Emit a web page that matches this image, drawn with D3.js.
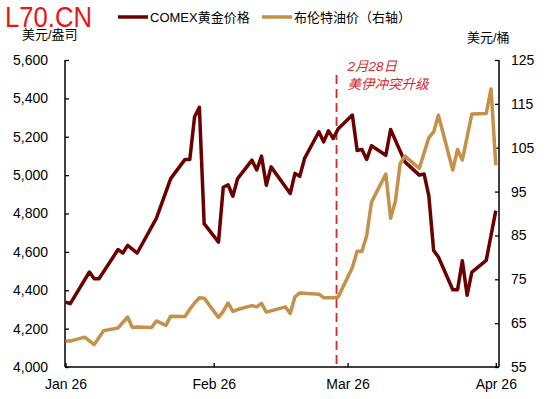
<!DOCTYPE html>
<html>
<head>
<meta charset="utf-8">
<script src="https://cdn.jsdelivr.net/npm/d3@7/dist/d3.min.js"></script>
<style>
  body { margin: 0; background: #fff; }
  svg text { font-family: "Liberation Sans", Arial, "Noto Sans CJK SC", sans-serif; fill: #000; }
</style>
</head>
<body>
<svg id="chart" width="550" height="399"></svg>
<script>
// COMEX gold (left axis, USD/oz) - turning points
const goldDates = [
  '2026-01-01', '2026-01-02', '2026-01-06', '2026-01-07', '2026-01-08', '2026-01-12',
  '2026-01-13', '2026-01-14', '2026-01-16', '2026-01-20', '2026-01-23', '2026-01-26',
  '2026-01-27', '2026-01-28', '2026-01-29', '2026-01-30', '2026-02-02', '2026-02-03',
  '2026-02-04', '2026-02-05', '2026-02-06', '2026-02-09', '2026-02-10', '2026-02-11',
  '2026-02-12', '2026-02-13', '2026-02-17', '2026-02-18', '2026-02-19', '2026-02-20',
  '2026-02-23', '2026-02-24', '2026-02-25', '2026-02-26', '2026-02-27', '2026-03-02',
  '2026-03-03', '2026-03-04', '2026-03-05', '2026-03-06', '2026-03-09', '2026-03-10',
  '2026-03-13', '2026-03-16', '2026-03-17', '2026-03-18', '2026-03-19', '2026-03-20',
  '2026-03-23', '2026-03-24', '2026-03-25', '2026-03-26', '2026-03-27', '2026-03-30',
  '2026-04-01'
];
const goldValues = [
  4338, 4330, 4495, 4460, 4460, 4612,
  4594, 4634, 4594, 4775, 4982, 5082,
  5082, 5304, 5353, 4747, 4651, 4937,
  4950, 4890, 4982, 5078, 5027, 5099,
  4947, 5043, 4904, 5009, 4994, 5087,
  5226, 5173, 5231, 5191, 5240, 5313,
  5128, 5134, 5082, 5153, 5104, 5238,
  5069, 5000, 5006, 4890, 4607, 4573,
  4403, 4403, 4554, 4374, 4495, 4556,
  4815
];

// Brent crude (right axis, USD/bbl)
const oilDates = [
  '2026-01-01', '2026-01-02', '2026-01-05', '2026-01-07', '2026-01-09', '2026-01-12',
  '2026-01-14', '2026-01-15', '2026-01-16', '2026-01-19', '2026-01-20', '2026-01-22',
  '2026-01-23', '2026-01-26', '2026-01-27', '2026-01-28', '2026-01-29', '2026-01-30',
  '2026-02-02', '2026-02-03', '2026-02-04', '2026-02-05', '2026-02-06', '2026-02-09',
  '2026-02-10', '2026-02-11', '2026-02-12', '2026-02-16', '2026-02-17', '2026-02-18',
  '2026-02-19', '2026-02-23', '2026-02-24', '2026-02-26', '2026-02-27', '2026-03-02',
  '2026-03-03', '2026-03-04', '2026-03-05', '2026-03-06', '2026-03-09', '2026-03-10',
  '2026-03-11', '2026-03-12', '2026-03-13', '2026-03-16', '2026-03-18', '2026-03-19',
  '2026-03-20', '2026-03-23', '2026-03-24', '2026-03-25', '2026-03-27', '2026-03-30',
  '2026-03-31', '2026-04-01'
];
const oilValues = [
  60.9, 60.9, 61.8, 60.1, 63.3, 63.9,
  66.4, 64.0, 64.1, 64.0, 65.5, 64.5,
  66.6, 66.5, 68.2, 69.6, 70.8, 70.7,
  66.3, 67.7, 69.6, 67.7, 68.1, 69.0,
  68.7, 69.5, 67.5, 68.7, 67.2, 71.0,
  71.9, 71.6, 70.8, 70.8, 70.9, 77.7,
  81.4, 81.4, 85.0, 92.6, 99.0, 88.9,
  92.8, 101.4, 103.1, 100.3, 107.3, 108.6,
  112.4, 99.9, 104.6, 102.2, 112.7, 112.8,
  118.4, 101.0
];

const leftTicks = [4000, 4200, 4400, 4600, 4800, 5000, 5200, 5400, 5600];
const rightTicks = [55, 65, 75, 85, 95, 105, 115, 125];
const monthTicks = ['2026-01-01', '2026-02-01', '2026-03-01', '2026-04-01'];
const monthLabels = ['Jan 26', 'Feb 26', 'Mar 26', 'Apr 26'];
const seriesNames = ['COMEX黄金价格', '布伦特油价（右轴）'];
const seriesColors = ['#6b0000', '#c4904a'];
const eventDate = '2026-02-27';
const eventText = ['2月28日', '美伊冲突升级'];

const parse = d3.timeParse('%Y-%m-%d');
const svg = d3.select('#chart');

const plotLeft = 65, plotRight = 499, plotTop = 60, plotBottom = 367;

const x = d3.scaleTime()
  .domain([parse('2026-01-01'), parse('2026-04-01')])
  .range([65.5, 495.8]);
const yL = d3.scaleLinear().domain([4000, 5600]).range([plotBottom, plotTop]);
const yR = d3.scaleLinear().domain([55, 125]).range([plotBottom, plotTop]);

const gold = d3.zip(goldDates, goldValues).map(([d, v]) => ({ date: parse(d), value: v }));
const oil = d3.zip(oilDates, oilValues).map(([d, v]) => ({ date: parse(d), value: v }));

// axes
const axisL = svg.append('g')
  .attr('transform', `translate(${plotLeft},0)`)
  .call(d3.axisLeft(yL).tickValues(leftTicks).tickSize(-4).tickPadding(17).tickFormat(d3.format(',')));
const axisR = svg.append('g')
  .attr('transform', `translate(${plotRight},0)`)
  .call(d3.axisRight(yR).tickValues(rightTicks).tickSize(-4).tickPadding(12));
const axisB = svg.append('g')
  .attr('transform', `translate(0,${plotBottom})`)
  .call(d3.axisBottom(x).tickValues(monthTicks.map(parse)).tickSize(-4).tickPadding(12)
    .tickFormat((d, i) => monthLabels[i]));

[axisL, axisR, axisB].forEach((g) => {
  g.select('.domain').remove();
  g.selectAll('.tick line').attr('stroke', '#000').attr('stroke-width', 1.3);
  g.selectAll('.tick text').attr('font-size', 14).attr('fill', '#000');
});

svg.append('line').attr('x1', plotLeft).attr('x2', plotLeft).attr('y1', plotTop).attr('y2', plotBottom)
  .attr('stroke', '#000').attr('stroke-width', 1.5);
svg.append('line').attr('x1', plotRight).attr('x2', plotRight).attr('y1', plotTop).attr('y2', plotBottom)
  .attr('stroke', '#000').attr('stroke-width', 1.5);
svg.append('line').attr('x1', plotLeft).attr('x2', plotRight).attr('y1', plotBottom).attr('y2', plotBottom)
  .attr('stroke', '#000').attr('stroke-width', 1.5);

// event marker
const ex = x(parse(eventDate)) - 1.5;
svg.append('line')
  .attr('x1', ex).attr('x2', ex).attr('y1', 75).attr('y2', plotBottom)
  .attr('stroke', '#d42a2f').attr('stroke-width', 1.8).attr('stroke-dasharray', '9,5');
svg.append('g').selectAll('text')
  .data(eventText)
  .join('text')
  .attr('x', ex + 11)
  .attr('y', (d, i) => 71 + i * 18)
  .attr('font-size', 13.5)
  .attr('font-style', 'italic')
  .style('fill', '#d42a2f')
  .text((d) => d);

// series
const lineL = d3.line().x((d) => x(d.date)).y((d) => yL(d.value));
const lineR = d3.line().x((d) => x(d.date)).y((d) => yR(d.value));

svg.append('path').datum(gold)
  .attr('d', lineL).attr('fill', 'none')
  .attr('stroke', seriesColors[0]).attr('stroke-width', 3.5).attr('stroke-linejoin', 'round');
svg.append('path').datum(oil)
  .attr('d', lineR).attr('fill', 'none')
  .attr('stroke', seriesColors[1]).attr('stroke-width', 3.5).attr('stroke-linejoin', 'round');

// legend
const legend = svg.append('g').selectAll('g')
  .data(seriesNames)
  .join('g')
  .attr('transform', (d, i) => `translate(${i === 0 ? 118 : 262},17)`);
legend.append('line')
  .attr('x1', 0).attr('x2', 30)
  .attr('stroke', (d, i) => seriesColors[i]).attr('stroke-width', 3.5);
legend.append('text')
  .attr('x', 32).attr('y', 5)
  .attr('font-size', 13)
  .text((d) => d);

// unit labels
svg.append('text').attr('x', 22).attr('y', 39).attr('font-size', 13).text('美元/盎司');
svg.append('text').attr('x', 467).attr('y', 42).attr('font-size', 13).text('美元/桶');

// watermark
svg.append('text')
  .attr('x', 5).attr('y', 27)
  .attr('font-size', 29)
  .attr('textLength', 87).attr('lengthAdjust', 'spacingAndGlyphs')
  .style('fill', '#e8141b')
  .text('L70.CN');
</script>
</body>
</html>
